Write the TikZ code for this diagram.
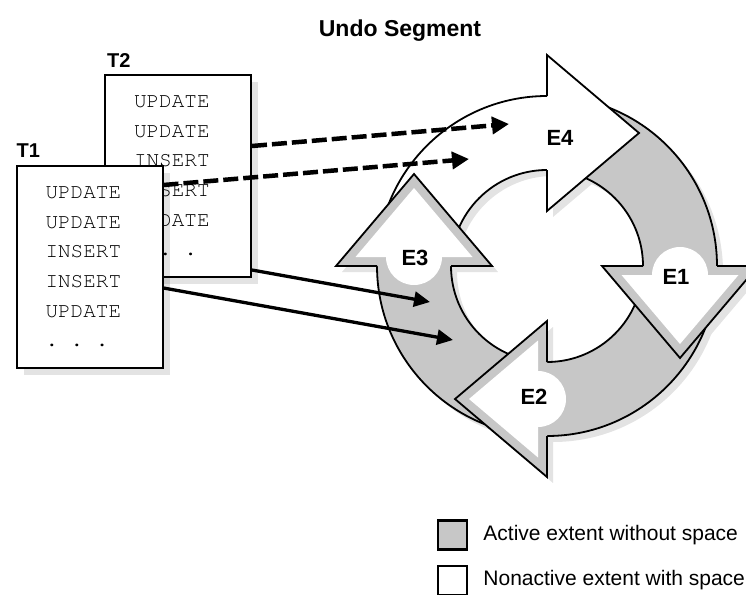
\documentclass[tikz,border=0pt]{standalone}
\usepackage{fontspec}
\setmainfont{Liberation Sans}
\newfontfamily\codefont{TeX Gyre Cursor}
\usetikzlibrary{arrows.meta, positioning, shadows}

\colorlet{activegray}{black!22}
\colorlet{dropgray}{black!11}

% arrow head of one extent, radial axis along x, pointing along -y
\newcommand{\headpath}{(170,0) -- (211,0) -- (133,-92) -- (55,0) -- (96,0)}
\newcommand{\insetpath}{(74.5,-9) -- (191.5,-9) -- (133,-78) -- cycle}

\begin{document}
\begin{tikzpicture}[
        x=1pt, y=1pt,
        ring/.style={draw=black, line width=1.8pt},
        txbox/.style={rectangle, draw, line width=2pt, fill=white, text width=88pt, inner xsep=29pt, inner ysep=0pt, minimum height=202pt, align=left, font=\codefont\fontsize{21}{29.6}\selectfont, drop shadow={shadow xshift=7pt, shadow yshift=-7pt, fill=black, opacity=0.11}},
        tag/.style={font=\fontsize{20}{24}\selectfont\bfseries, inner sep=0pt, anchor=base west},
        extlabel/.style={font=\fontsize{22}{24}\selectfont\bfseries, inner sep=0pt},
        legbox/.style={draw, line width=2.5pt, minimum size=29pt, inner sep=0pt},
        legtext/.style={font=\fontsize{21}{25}\selectfont, inner sep=0pt},
        newarrow/.style={-{Triangle[length=17pt, width=17pt]}, line width=4.5pt, dash pattern=on 15pt off 5pt},
        curarrow/.style={-{Triangle[length=16pt, width=15pt]}, line width=3.3pt}
    ]
        \useasboundingbox (0,0) rectangle (746,-594);

        \node[font=\fontsize{23}{27}\selectfont\bfseries] (title) at (400,-31) {Undo Segment};

        % shadow of the ring
        \begin{scope}[shift={(553,-272)}]
            \fill[dropgray, even odd rule] (0,0) circle[radius=170] (0,0) circle[radius=96];
            \foreach \a in {90,0,-90,180}
                \fill[dropgray, rotate=\a] \headpath;
        \end{scope}

        % the four extents
        \begin{scope}[shift={(547,-266)}]
            \foreach \a/\b/\col in {180/90/white, 90/0/activegray, 0/-90/activegray, -90/-180/activegray} {
                \fill[\col] (\a:170) arc[start angle=\a, end angle=\b, radius=170] -- (\b:96) arc[start angle=\b, end angle=\a, radius=96] -- cycle;
                \draw[ring] (\a:170) arc[start angle=\a, end angle=\b, radius=170];
                \draw[ring] (\a:96) arc[start angle=\a, end angle=\b, radius=96];
            }
            \foreach \a/\col in {90/white, 0/activegray, -90/activegray, 180/activegray}
                \filldraw[ring, fill=\col, rotate=\a] \headpath;
            \foreach \a in {0,-90,180} {
                \fill[white, rotate=\a] \insetpath;
                \fill[white, rotate=\a] (133,-9) circle[radius=28];
            }
            \node[extlabel] (e4) at (13,128) {E4};
            \node[extlabel] (e1) at (129,-11) {E1};
            \node[extlabel] (e2) at (-13,-131) {E2};
            \node[extlabel] (e3) at (-132,8) {E3};
        \end{scope}

        % transactions
        \node[txbox] (t2) at (178,-176) {UPDATE\\UPDATE\\INSERT\\INSERT\\UPDATE\\.\hspace{12.6pt}.\hspace{12.6pt}.};
        \node[tag] (t2tag) at ([shift={(3,7)}]t2.north west) {T2};
        \node[txbox] (t1) at ([shift={(-88.5,-91)}]t2.center) {UPDATE\\UPDATE\\INSERT\\INSERT\\UPDATE\\.\hspace{12.6pt}.\hspace{12.6pt}.};
        \node[tag] (t1tag) at ([shift={(1,8)}]t1.north west) {T1};

        \coordinate (e4a) at (509,-124);
        \coordinate (e4b) at (469,-159);
        \coordinate (e3a) at (430,-302);
        \coordinate (e3b) at (453,-340);

        \draw[newarrow] ([yshift=30]t2.east) -- (e4a);
        \draw[newarrow] ([yshift=82]t1.east) -- (e4b);
        \draw[curarrow] ([yshift=-94]t2.east) -- (e3a);
        \draw[curarrow] ([yshift=-21]t1.east) -- (e3b);

        % legend
        \node[legbox, fill=activegray] (actkey) at (452.5,-535) {};
        \node[legbox, fill=white, below=14pt of actkey] (freekey) {};
        \node[legtext, right=15pt of actkey] (acttext) {Active extent without space};
        \node[legtext, right=15pt of freekey] (freetext) {Nonactive extent with space};
    \end{tikzpicture}
\end{document}
